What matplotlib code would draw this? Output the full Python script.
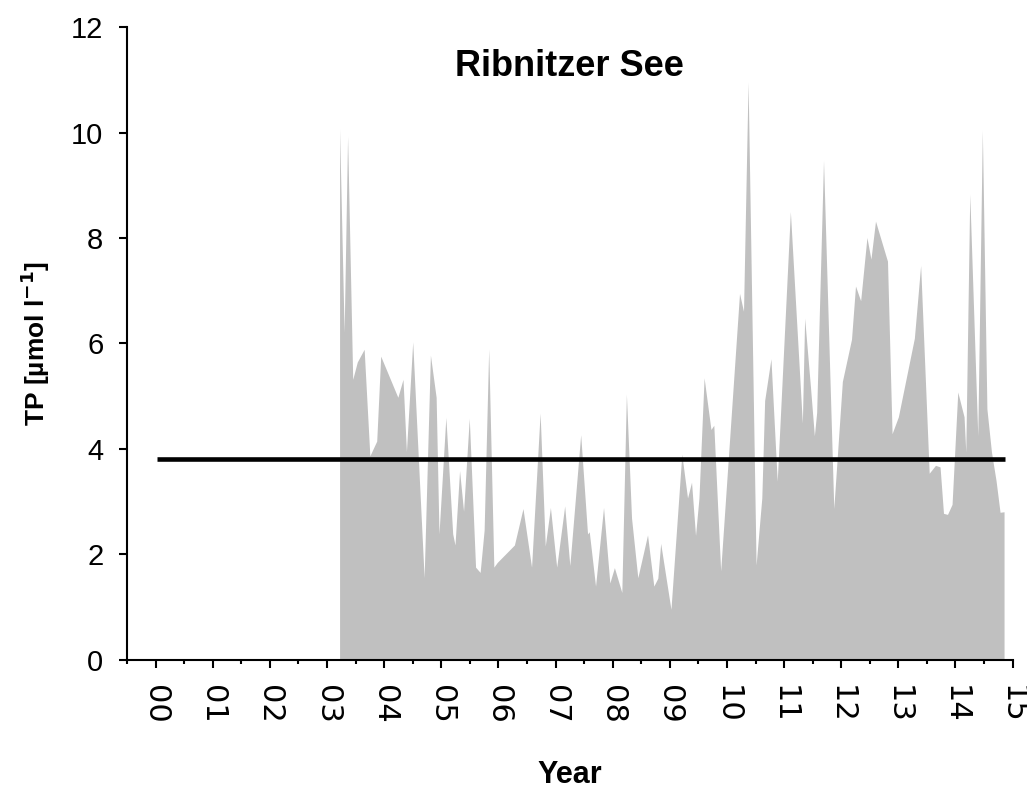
import matplotlib
matplotlib.use("Agg")
import matplotlib.pyplot as plt
from matplotlib.ticker import MultipleLocator

# ---- data (years since 2000, TP in µmol/l) ----
years = [3.22, 3.30, 3.36, 3.45, 3.53, 3.65, 3.75, 3.87, 3.94, 4.24, 4.33, 4.39,
         4.50, 4.70, 4.81, 4.91, 4.96, 5.08, 5.20, 5.24, 5.32, 5.39, 5.49, 5.60,
         5.68, 5.75, 5.83, 5.92, 5.98, 6.28, 6.43, 6.58, 6.73, 6.82, 6.91, 7.02,
         7.16, 7.25, 7.44, 7.56, 7.59, 7.70, 7.84, 7.95, 8.03, 8.16, 8.24, 8.33,
         8.44, 8.61, 8.72, 8.79, 8.84, 9.02, 9.21, 9.31, 9.38, 9.45,
         9.51, 9.60, 9.72, 9.77, 9.89, 10.22, 10.29, 10.37, 10.51, 10.61, 10.66,
         10.77, 10.88, 11.11, 11.32, 11.36, 11.46, 11.53, 11.57, 11.69, 11.87,
         12.02, 12.18, 12.25, 12.34, 12.45, 12.52, 12.60, 12.81, 12.89, 13.00,
         13.28, 13.39, 13.54, 13.65, 13.73, 13.79, 13.86, 13.94, 14.04, 14.15,
         14.18, 14.25, 14.39, 14.47, 14.55, 14.63, 14.71, 14.78, 14.85]
tp = [10.07, 6.21, 9.93, 5.32, 5.65, 5.89, 3.87, 4.15, 5.76, 4.98, 5.32, 3.95,
      6.03, 1.56, 5.78, 4.98, 2.39, 4.60, 2.39, 2.18, 3.59, 2.82, 4.58, 1.76,
      1.66, 2.46, 5.90, 1.76, 1.85, 2.18, 2.87, 1.76, 4.68, 2.16, 2.89, 1.76,
      2.92, 1.79, 4.27, 2.39, 2.43, 1.40, 2.89, 1.46, 1.75, 1.28, 5.04, 2.69,
      1.56, 2.37, 1.40, 1.55, 2.21, 0.96, 3.90, 3.07, 3.37, 2.36,
      3.07, 5.35, 4.37, 4.45, 1.69, 6.95, 6.61, 10.96, 1.80, 3.07, 4.92,
      5.71, 3.39, 8.50, 4.49, 6.48, 5.20, 4.25, 4.69, 9.47, 2.87,
      5.28, 6.08, 7.09, 6.81, 8.01, 7.60, 8.32, 7.56, 4.29, 4.61,
      6.10, 7.48, 3.54, 3.69, 3.66, 2.78, 2.76, 2.95, 5.08, 4.61,
      3.94, 8.83, 4.25, 10.04, 4.76, 3.94, 3.40, 2.80, 2.81]
threshold = 3.81
threshold_span = [0.02, 14.87]
tick_years = list(range(0, 16))
tick_labels = ["%02d" % y for y in tick_years]
title = "Ribnitzer See"
xlabel = "Year"
ylabel = "TP [µmol l$^{\\mathbf{-1}}$]"

plt.rcParams['font.family'] = ['Liberation Sans', 'DejaVu Sans']

fig = plt.figure(figsize=(10.27, 7.92), dpi=100)
ax = fig.add_axes([0.1237, 0.1667, 0.986 - 0.1237, 0.9659 - 0.1667])

ax.fill_between(years, tp, 0, color='#c0c0c0', linewidth=0)
ax.plot(threshold_span, [threshold, threshold], color='black', linewidth=3.3,
        solid_capstyle='butt')

ax.set_xlim(-0.5, 15)
ax.set_ylim(0, 12)
ax.set_yticks(range(0, 13, 2))
ax.set_xticks(tick_years)
ax.set_xticklabels(tick_labels, rotation=-90, fontsize=22,
                   family=['DejaVu Sans'])
ax.xaxis.set_minor_locator(MultipleLocator(0.5))
ax.tick_params(axis='y', labelsize=21, direction='out', length=6, width=1.5, pad=11)
ax.tick_params(axis='x', which='major', direction='out', length=6, width=1.5, pad=12)
ax.tick_params(axis='x', which='minor', direction='out', length=3, width=1.5)

for s in ['top', 'right']:
    ax.spines[s].set_visible(False)
for s in ['left', 'bottom']:
    ax.spines[s].set_linewidth(1.5)

ax.text(0.5, 0.937, title, transform=ax.transAxes, ha='center', va='center',
        fontsize=26, fontweight='bold')
ax.set_xlabel(xlabel, fontsize=22, fontweight='bold', labelpad=26)
ax.set_ylabel(ylabel, fontsize=19, fontweight='bold', labelpad=14)

fig.savefig('out.png', dpi=100)
